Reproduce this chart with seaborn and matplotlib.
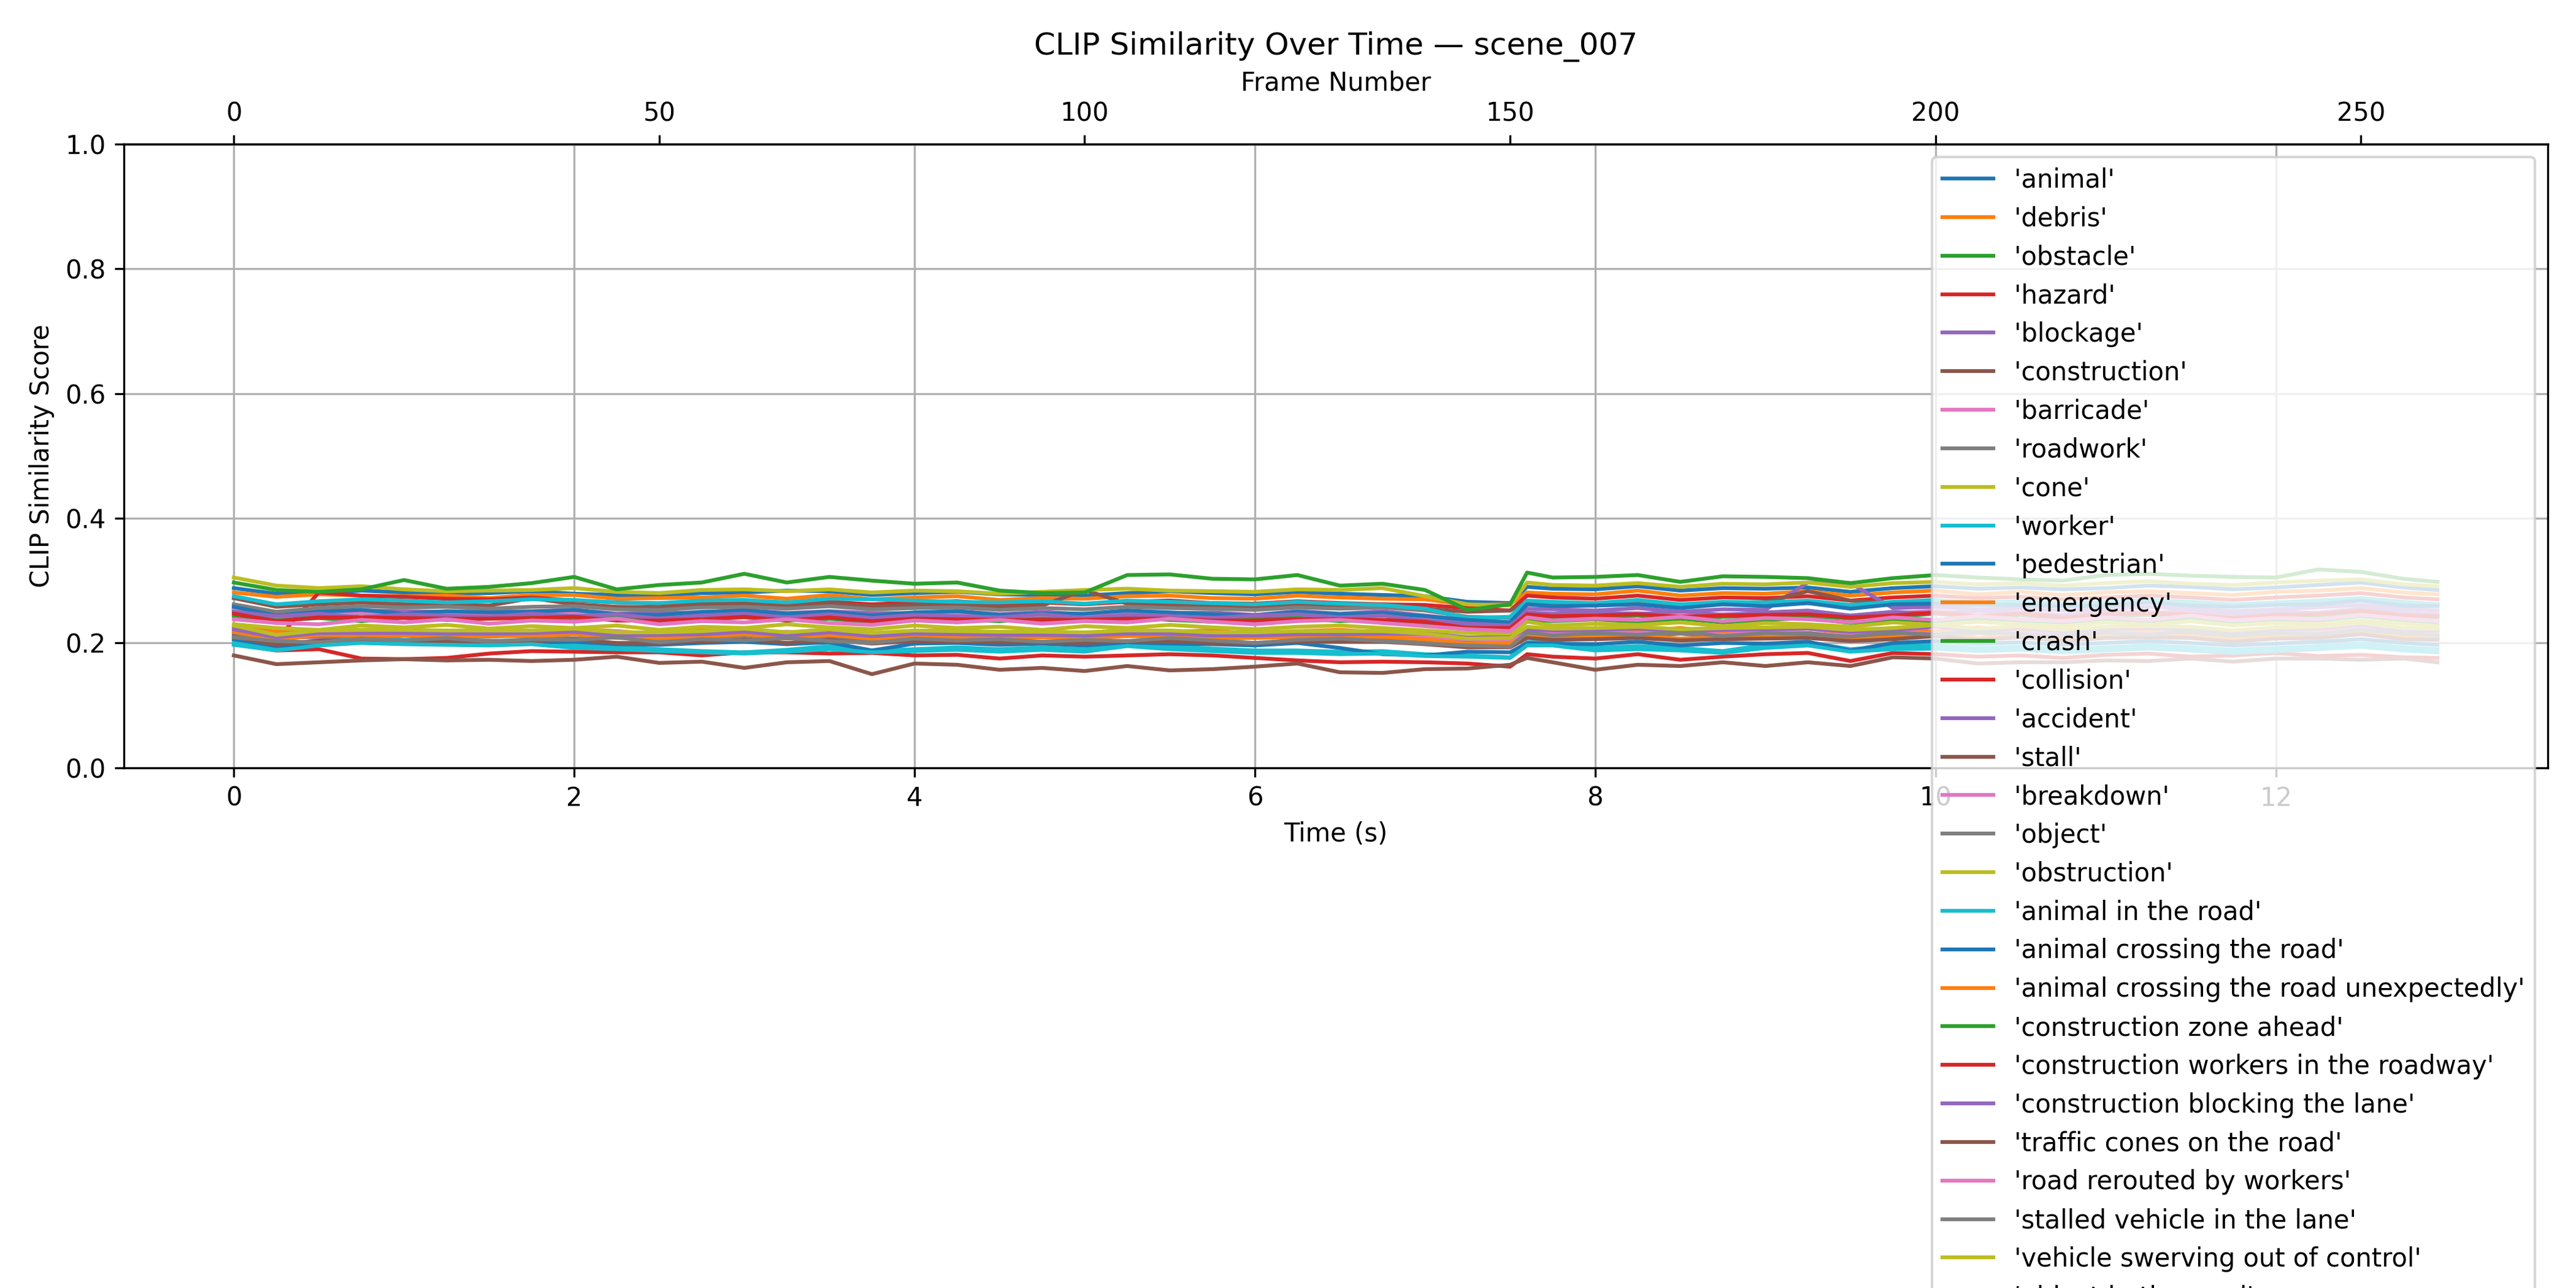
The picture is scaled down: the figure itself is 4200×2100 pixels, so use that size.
import matplotlib
matplotlib.use("Agg")
import matplotlib.pyplot as plt
import seaborn as sns
import pandas as pd

FPS = 20
# sampled frames (every 5 frames, plus the jump at frame 152 and the last frame)
frames = list(range(0, 151, 5)) + [152] + list(range(155, 256, 5)) + [259]

animal = [.288,.279,.280,.284,.281,.279,.280,.283,.279,.277,.276,.280,.281,.284,.283,.277,.280,.282,.278,.277,.276,.280,.283,.280,.278,.282,.279,.277,.275,.266,.264,
          .290,.287,.286,.291,.284,.288,.287,.289,.282,.288,.291,.287,.289,.286,.288,.292,.290,.286,.289,.293,.297,.289,.285]
debris = [.281,.274,.278,.276,.275,.276,.272,.277,.277,.271,.272,.273,.276,.271,.277,.270,.273,.275,.269,.272,.271,.275,.276,.272,.271,.276,.273,.271,.270,.261,.262,
          .281,.279,.278,.284,.276,.280,.279,.283,.276,.281,.284,.278,.282,.277,.281,.283,.280,.277,.282,.284,.288,.281,.278]
obstacle = [.252,.241,.244,.248,.243,.247,.243,.247,.246,.244,.240,.246,.246,.244,.245,.243,.243,.246,.241,.245,.241,.247,.243,.244,.239,.246,.241,.244,.237,.231,.228,
            .243,.241,.242,.244,.240,.242,.243,.244,.239,.242,.247,.241,.245,.239,.244,.245,.244,.238,.243,.244,.250,.242,.241]
hazard = [.212,.205,.281,.276,.274,.271,.270,.273,.268,.265,.263,.266,.268,.263,.266,.262,.265,.267,.262,.265,.262,.266,.268,.264,.263,.267,.264,.262,.261,.256,.252,
          .276,.273,.271,.276,.269,.273,.272,.275,.268,.273,.276,.272,.274,.270,.273,.276,.273,.269,.273,.276,.280,.273,.270]
blockage = [.256,.244,.251,.252,.251,.250,.250,.251,.253,.247,.248,.249,.253,.248,.251,.248,.248,.251,.246,.250,.246,.252,.248,.249,.245,.251,.247,.251,.244,.237,.233,
            .255,.254,.252,.256,.250,.254,.253,.297,.296,.256,.258,.254,.256,.252,.255,.258,.255,.251,.254,.257,.261,.255,.252]
construction = [.272,.258,.262,.265,.262,.261,.260,.272,.262,.258,.257,.262,.263,.259,.264,.259,.261,.262,.258,.260,.285,.263,.261,.260,.258,.262,.260,.262,.255,.250,.252,
                .266,.263,.262,.267,.260,.264,.266,.283,.268,.263,.265,.263,.265,.261,.264,.267,.264,.261,.264,.267,.271,.265,.262]
barricade = [.255,.242,.248,.248,.248,.245,.246,.247,.249,.243,.243,.245,.249,.243,.248,.242,.246,.245,.244,.244,.244,.246,.246,.243,.243,.245,.245,.245,.241,.231,.231,
             .248,.246,.247,.248,.244,.246,.247,.248,.243,.247,.252,.246,.250,.244,.249,.250,.249,.243,.248,.249,.255,.247,.246]
roadwork = [.262,.250,.256,.259,.257,.258,.255,.258,.259,.254,.253,.257,.258,.255,.259,.254,.256,.257,.253,.256,.254,.258,.256,.255,.253,.257,.255,.257,.252,.242,.240,
            .262,.262,.260,.264,.258,.262,.261,.264,.257,.263,.266,.262,.264,.260,.263,.266,.263,.259,.262,.265,.269,.263,.260]
cone = [.305,.292,.288,.291,.286,.283,.284,.285,.288,.282,.280,.285,.286,.283,.286,.281,.284,.283,.279,.282,.285,.287,.284,.283,.282,.286,.285,.288,.275,.262,.260,
        .297,.293,.292,.296,.290,.295,.294,.297,.290,.296,.298,.294,.296,.292,.296,.299,.295,.293,.297,.300,.302,.294,.291]
worker = [.275,.262,.267,.270,.268,.265,.267,.270,.269,.265,.264,.268,.269,.265,.271,.270,.268,.266,.265,.267,.263,.268,.266,.264,.262,.266,.263,.261,.255,.240,.242,
          .268,.266,.264,.269,.262,.266,.265,.268,.261,.266,.269,.265,.267,.263,.266,.269,.266,.262,.265,.268,.272,.266,.262]
pedestrian = [.258,.244,.250,.253,.247,.251,.249,.250,.253,.246,.245,.250,.252,.247,.250,.244,.249,.251,.245,.247,.247,.252,.249,.246,.244,.250,.246,.248,.243,.237,.233,
              .262,.259,.260,.262,.256,.262,.259,.264,.255,.262,.263,.261,.261,.259,.260,.265,.260,.258,.261,.262,.268,.260,.259]
emergency = [.226,.218,.216,.221,.223,.217,.220,.215,.222,.219,.214,.221,.218,.216,.222,.213,.219,.221,.216,.220,.215,.222,.218,.220,.214,.219,.221,.217,.214,.208,.211,
             .224,.218,.222,.219,.224,.217,.221,.223,.216,.222,.218,.225,.220,.216,.223,.219,.224,.217,.222,.219,.226,.221,.217]
crash = [.243,.236,.240,.235,.241,.237,.239,.242,.236,.240,.234,.238,.241,.236,.239,.233,.240,.237,.235,.239,.236,.241,.237,.234,.238,.240,.235,.237,.232,.226,.224,
         .237,.235,.238,.234,.239,.233,.237,.240,.232,.238,.235,.240,.236,.233,.239,.235,.241,.234,.238,.236,.243,.237,.233]
collision = [.198,.188,.190,.175,.174,.176,.183,.187,.186,.185,.185,.180,.185,.185,.183,.184,.180,.181,.175,.180,.178,.180,.182,.180,.176,.172,.169,.170,.169,.167,.162,
             .182,.178,.175,.182,.173,.178,.182,.184,.171,.184,.182,.178,.180,.176,.181,.183,.178,.180,.184,.179,.181,.177,.176]
accident = [.250,.243,.247,.241,.246,.244,.242,.247,.243,.246,.239,.244,.247,.241,.246,.240,.245,.243,.241,.246,.240,.245,.243,.240,.244,.246,.241,.244,.236,.231,.228,
            .249,.247,.250,.246,.251,.245,.249,.252,.244,.250,.247,.252,.248,.245,.251,.247,.253,.246,.250,.248,.255,.249,.245]
stall = [.180,.166,.169,.172,.174,.172,.173,.171,.173,.178,.168,.170,.160,.169,.171,.150,.167,.165,.157,.160,.155,.163,.156,.158,.162,.167,.153,.152,.158,.159,.165,
         .176,.169,.157,.165,.163,.169,.163,.169,.163,.177,.175,.167,.169,.169,.172,.171,.175,.170,.175,.175,.173,.175,.169]
breakdown = [.219,.212,.208,.217,.213,.218,.211,.216,.214,.219,.210,.215,.213,.218,.212,.209,.216,.213,.217,.211,.215,.213,.219,.214,.210,.215,.217,.212,.210,.205,.204,
             .219,.214,.217,.215,.220,.213,.218,.216,.211,.219,.215,.221,.216,.213,.219,.215,.222,.214,.218,.216,.223,.217,.213]
object_ = [.213,.207,.211,.206,.212,.208,.210,.213,.207,.211,.205,.209,.212,.207,.210,.204,.211,.208,.206,.210,.207,.212,.208,.205,.209,.211,.206,.208,.203,.200,.198,
           .213,.211,.214,.210,.215,.209,.213,.216,.208,.214,.211,.216,.212,.209,.215,.211,.217,.210,.214,.212,.219,.213,.209]
obstruction = [.230,.224,.221,.228,.225,.229,.223,.227,.224,.228,.221,.226,.224,.230,.225,.222,.228,.224,.226,.221,.227,.224,.229,.225,.222,.226,.228,.224,.220,.216,.214,
               .234,.228,.231,.229,.233,.227,.232,.230,.226,.233,.229,.234,.230,.227,.233,.229,.235,.228,.232,.230,.236,.231,.227]
animal_in_road = [.201,.190,.201,.208,.205,.205,.203,.205,.196,.194,.190,.187,.185,.189,.195,.188,.190,.193,.190,.193,.190,.201,.195,.191,.188,.188,.186,.187,.182,.180,.177,
                  .201,.201,.192,.195,.192,.187,.197,.201,.190,.195,.196,.192,.194,.190,.193,.196,.193,.189,.192,.195,.199,.193,.190]
animal_crossing = [.206,.195,.200,.202,.200,.201,.199,.201,.202,.198,.197,.200,.202,.198,.201,.188,.199,.200,.197,.199,.196,.201,.199,.198,.196,.200,.192,.182,.180,.186,.185,
                   .200,.199,.198,.202,.196,.200,.199,.202,.188,.200,.203,.199,.201,.197,.200,.203,.200,.196,.199,.202,.206,.200,.197]
animal_crossing_unexp = [.218,.205,.213,.212,.212,.211,.211,.211,.214,.208,.208,.210,.214,.208,.213,.207,.211,.210,.209,.209,.208,.211,.211,.208,.208,.210,.210,.210,.206,.199,.200,
                         .210,.208,.209,.211,.207,.209,.210,.211,.206,.209,.214,.208,.212,.206,.211,.212,.211,.205,.210,.211,.217,.209,.208]
zone_ahead = [.297,.285,.282,.286,.301,.287,.290,.296,.306,.286,.293,.297,.311,.297,.306,.300,.295,.297,.284,.280,.281,.309,.310,.303,.302,.309,.292,.295,.285,.253,.262,
              .313,.305,.306,.309,.298,.307,.306,.304,.296,.304,.309,.305,.302,.300,.309,.311,.308,.306,.305,.318,.314,.303,.298]
workers_roadway = [.247,.235,.241,.241,.240,.239,.239,.240,.242,.236,.236,.238,.242,.236,.241,.235,.239,.238,.237,.237,.237,.239,.239,.236,.236,.238,.238,.237,.234,.224,.224,
                   .246,.243,.244,.246,.242,.244,.245,.246,.241,.244,.249,.243,.247,.241,.246,.247,.246,.240,.245,.246,.252,.244,.243]
blocking_lane = [.222,.209,.216,.216,.216,.215,.215,.216,.218,.212,.213,.214,.218,.212,.217,.211,.215,.214,.213,.213,.212,.215,.215,.212,.212,.214,.214,.215,.215,.209,.209,
                 .222,.220,.221,.223,.219,.221,.222,.223,.218,.221,.226,.220,.224,.218,.223,.224,.223,.217,.222,.223,.229,.221,.220]
traffic_cones = [.210,.197,.204,.204,.204,.203,.203,.203,.206,.200,.200,.202,.206,.200,.205,.199,.203,.202,.201,.201,.200,.203,.203,.200,.200,.202,.202,.202,.198,.193,.193,
                 .208,.205,.206,.208,.204,.206,.207,.208,.203,.206,.211,.205,.209,.203,.208,.209,.208,.202,.207,.208,.214,.206,.205]
rerouted = [.238,.232,.230,.237,.233,.238,.231,.236,.234,.239,.230,.235,.233,.238,.232,.229,.236,.233,.237,.231,.235,.233,.239,.234,.230,.235,.237,.232,.227,.222,.219,
            .241,.236,.239,.237,.242,.235,.240,.238,.233,.241,.237,.243,.238,.235,.241,.237,.244,.236,.240,.238,.245,.239,.235]
stalled_vehicle = [.209,.203,.201,.207,.204,.208,.202,.206,.205,.209,.201,.206,.204,.208,.203,.200,.207,.204,.206,.202,.205,.203,.208,.204,.200,.205,.207,.203,.199,.196,.194,
                   .217,.212,.216,.213,.218,.211,.216,.214,.210,.217,.213,.219,.214,.211,.217,.213,.220,.212,.216,.214,.221,.216,.212]
swerving = [.228,.213,.220,.221,.221,.220,.220,.220,.223,.217,.217,.219,.223,.217,.222,.216,.220,.219,.218,.218,.217,.220,.220,.217,.217,.219,.219,.219,.215,.207,.208,
            .226,.223,.224,.226,.222,.224,.225,.226,.221,.224,.229,.223,.227,.221,.226,.227,.226,.220,.225,.226,.232,.224,.223]
object_in_road = [.197,.188,.196,.200,.198,.197,.196,.198,.192,.190,.187,.185,.183,.186,.190,.185,.187,.189,.186,.189,.186,.195,.190,.187,.184,.184,.182,.183,.179,.178,.176,
                  .196,.196,.188,.190,.188,.184,.192,.196,.186,.190,.191,.187,.189,.185,.188,.191,.188,.184,.187,.190,.194,.188,.185]

prompts = ["animal", "debris", "obstacle", "hazard", "blockage", "construction", "barricade",
           "roadwork", "cone", "worker", "pedestrian", "emergency", "crash", "collision",
           "accident", "stall", "breakdown", "object", "obstruction", "animal in the road",
           "animal crossing the road", "animal crossing the road unexpectedly",
           "construction zone ahead", "construction workers in the roadway",
           "construction blocking the lane", "traffic cones on the road",
           "road rerouted by workers", "stalled vehicle in the lane",
           "vehicle swerving out of control", "object in the road"]
series = [animal, debris, obstacle, hazard, blockage, construction, barricade, roadwork, cone,
          worker, pedestrian, emergency, crash, collision, accident, stall, breakdown, object_,
          obstruction, animal_in_road, animal_crossing, animal_crossing_unexp, zone_ahead,
          workers_roadway, blocking_lane, traffic_cones, rerouted, stalled_vehicle, swerving,
          object_in_road]

rows = []
for p, vals in zip(prompts, series):
    for f, v in zip(frames, vals, strict=True):
        rows.append({"prompt": p, "frame": f, "time": f / FPS, "score": v})
df = pd.DataFrame(rows)

tab10 = sns.color_palette("tab10")

fig, ax = plt.subplots(figsize=(14, 7))
for i, p in enumerate(prompts):
    sub = df[df["prompt"] == p]
    sns.lineplot(data=sub, x="time", y="score", color=tab10[i % 10],
                 label=f"'{p}'", errorbar=None, ax=ax)

ax.set_ylim(0, 1)
ax.set_xlabel("Time (s)")
ax.set_ylabel("CLIP Similarity Score")
ax.grid(True)

top = ax.secondary_xaxis("top", functions=(lambda t: t * FPS, lambda f: f / FPS))
top.set_xlabel("Frame Number")

ax.set_title("CLIP Similarity Over Time — scene_007")
ax.legend(loc="upper right")

fig.subplots_adjust(left=0.048, right=0.989, top=0.888, bottom=0.404)
fig.savefig("out.png", dpi=300)
